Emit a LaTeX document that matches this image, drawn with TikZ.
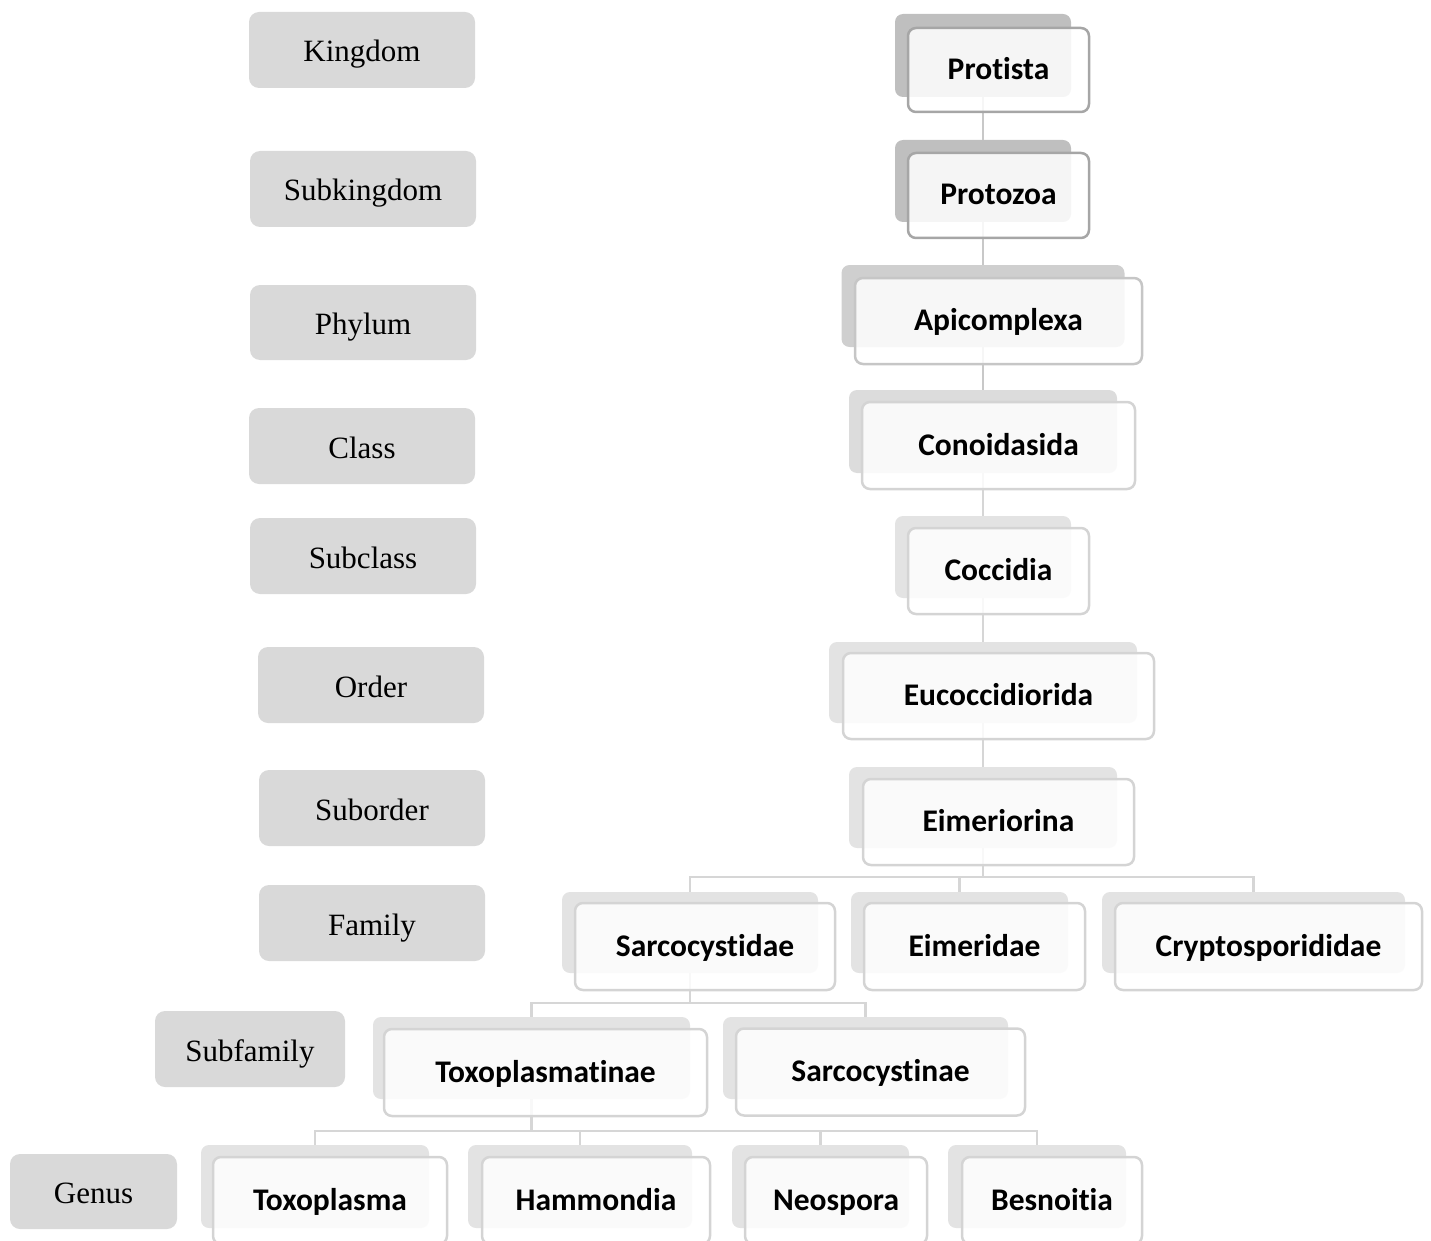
\documentclass[tikz,border=0pt]{standalone}
\usepackage{fontspec}
\setmainfont{Liberation Serif}
\newfontfamily\carl[Ligatures={NoCommon}]{Carlito}
\definecolor{lblgray}{HTML}{D9D9D9}
\definecolor{shA}{HTML}{BFBFBF}
\definecolor{shB}{HTML}{CFCFCF}
\definecolor{shC}{HTML}{DCDCDC}
\definecolor{shD}{HTML}{E3E3E3}
\definecolor{bdA}{HTML}{A6A6A6}
\definecolor{bdB}{HTML}{C6C6C6}
\definecolor{bdC}{HTML}{D4D4D4}
\definecolor{lnA}{HTML}{C8C8C8}
\definecolor{lnB}{HTML}{D6D6D6}
\tikzset{
  lbl/.style={fill=lblgray, rounded corners=10pt, inner sep=0pt, minimum width=226pt, minimum height=76pt,
    text height=24pt, text depth=0pt, font=\fontsize{31}{36}\selectfont},
  shad/.style={rounded corners=8pt, inner sep=0pt},
  front/.style={rounded corners=8pt, inner sep=0pt, fill=white, fill opacity=0.85, text opacity=1,
    line width=2.5pt, text height=19pt, text depth=0pt, font=\carl\bfseries\fontsize{31.5}{36}\selectfont},
  conn/.style={line width=2.6pt},
}
\begin{document}
\begin{tikzpicture}[x=1pt,y=-1pt]
\useasboundingbox (0,0) rectangle (1431,1241);
\clip (0,0) rectangle (1431,1241);
% left rank labels
\node[lbl] (kingdom) at (362,50) {Kingdom};
\node[lbl] (subkingdom) at (363,189) {Subkingdom};
\node[lbl, minimum height=75pt] (phylum) at (363,322.5) {Phylum};
\node[lbl] (class) at (362,446) {Class};
\node[lbl] (subclass) at (363,556) {Subclass};
\node[lbl] (order) at (371,685) {Order};
\node[lbl] (suborder) at (372,808) {Suborder};
\node[lbl] (family) at (372,923) {Family};
\node[lbl, minimum width=190pt] (subfamily) at (250,1049) {Subfamily};
\node[lbl, minimum width=167pt, minimum height=75pt] (genus) at (93.5,1191.5) {Genus};
% shadow boxes
\node[shad, fill=shA, minimum width=176pt, minimum height=83pt] (s1) at (983,55.5) {};
\node[shad, fill=shA, minimum width=176pt, minimum height=82pt] (s2) at (983,181) {};
\node[shad, fill=shB, minimum width=283pt, minimum height=82pt] (s3) at (983,306) {};
\node[shad, fill=shC, minimum width=268pt, minimum height=83pt] (s4) at (983,431.5) {};
\node[shad, fill=shD, minimum width=176pt, minimum height=82pt] (s5) at (983,557) {};
\node[shad, fill=shD, minimum width=308pt, minimum height=81pt] (s6) at (983,682.5) {};
\node[shad, fill=shD, minimum width=268pt, minimum height=81pt] (s7) at (983,807.5) {};
\node[shad, fill=shD, minimum width=256pt, minimum height=81pt] (s8) at (690,932.5) {};
\node[shad, fill=shD, minimum width=217pt, minimum height=81pt] (s9) at (959.5,932.5) {};
\node[shad, fill=shD, minimum width=303pt, minimum height=81pt] (s10) at (1253.5,932.5) {};
\node[shad, fill=shD, minimum width=317pt, minimum height=82pt] (s11) at (531.5,1058) {};
\node[shad, fill=shD, minimum width=285pt, minimum height=82pt] (s12) at (865.5,1058) {};
\node[shad, fill=shD, minimum width=228pt, minimum height=83pt] (s13) at (315,1186.5) {};
\node[shad, fill=shD, minimum width=224pt, minimum height=83pt] (s14) at (580,1186.5) {};
\node[shad, fill=shD, minimum width=177pt, minimum height=83pt] (s15) at (820.5,1186.5) {};
\node[shad, fill=shD, minimum width=178pt, minimum height=83pt] (s16) at (1037,1186.5) {};
% connectors
\draw[conn, lnA] (s1.south) -- (s2.north);
\draw[conn, lnA] (s2.south) -- (s3.north);
\draw[conn, lnA] (s3.south) -- (s4.north);
\draw[conn, lnB] (s4.south) -- (s5.north);
\draw[conn, lnB] (s5.south) -- (s6.north);
\draw[conn, lnB] (s6.south) -- (s7.north);
\coordinate (b1) at (983,877);
\draw[conn, lnB] (s7.south) -- (b1);
\draw[conn, lnB] (s8.north) |- (b1) -| (s10.north);
\draw[conn, lnB] (s9.north) -- (s9.north |- b1);
\coordinate (b2) at (690,1003);
\draw[conn, lnB] (s8.south) -- (b2);
\draw[conn, lnB] (s11.north) |- (b2) -| (s12.north);
\coordinate (b3) at (531.5,1131);
\draw[conn, lnB] (s11.south) -- (b3);
\draw[conn, lnB] (s13.north) |- (b3) -| (s16.north);
\draw[conn, lnB] (s14.north) -- (s14.north |- b3);
\draw[conn, lnB] (s15.north) -- (s15.north |- b3);
% front boxes
\node[front, draw=bdA, minimum width=181pt, minimum height=84pt] (f1) at (998.5,70) {Protista};
\node[front, draw=bdA, minimum width=181pt, minimum height=85pt] (f2) at (998.5,195.5) {Protozoa};
\node[front, draw=bdB, minimum width=287pt, minimum height=86pt] (f3) at (998.5,321) {Apicomplexa};
\node[front, draw=bdC, minimum width=273pt, minimum height=87pt] (f4) at (998.5,445.5) {Conoidasida};
\node[front, draw=bdC, minimum width=181pt, minimum height=86pt] (f5) at (998.5,571) {Coccidia};
\node[front, draw=bdC, minimum width=311pt, minimum height=86pt] (f6) at (998.5,696) {Eucoccidiorida};
\node[front, draw=bdC, minimum width=271pt, minimum height=86pt] (f7) at (998.5,822) {Eimeriorina};
\node[front, draw=bdC, minimum width=260pt, minimum height=87pt] (f8) at (705,946.5) {Sarcocystidae};
\node[front, draw=bdC, minimum width=221pt, minimum height=87pt] (f9) at (974.5,946.5) {Eimeridae};
\node[front, draw=bdC, minimum width=307pt, minimum height=87pt] (f10) at (1268.5,946.5) {Cryptosporididae};
\node[front, draw=bdC, minimum width=323pt, minimum height=87pt] (f11) at (545.5,1072.5) {Toxoplasmatinae};
\node[front, draw=bdC, minimum width=289pt, minimum height=87pt] (f12) at (880.5,1072) {Sarcocystinae};
\node[front, draw=bdC, minimum width=234pt, minimum height=87pt] (f13) at (330,1200.5) {Toxoplasma};
\node[front, draw=bdC, minimum width=228pt, minimum height=87pt] (f14) at (596,1200.5) {Hammondia};
\node[front, draw=bdC, minimum width=182pt, minimum height=87pt] (f15) at (836,1200.5) {Neospora};
\node[front, draw=bdC, minimum width=180pt, minimum height=87pt] (f16) at (1052,1200.5) {Besnoitia};
\end{tikzpicture}
\end{document}
